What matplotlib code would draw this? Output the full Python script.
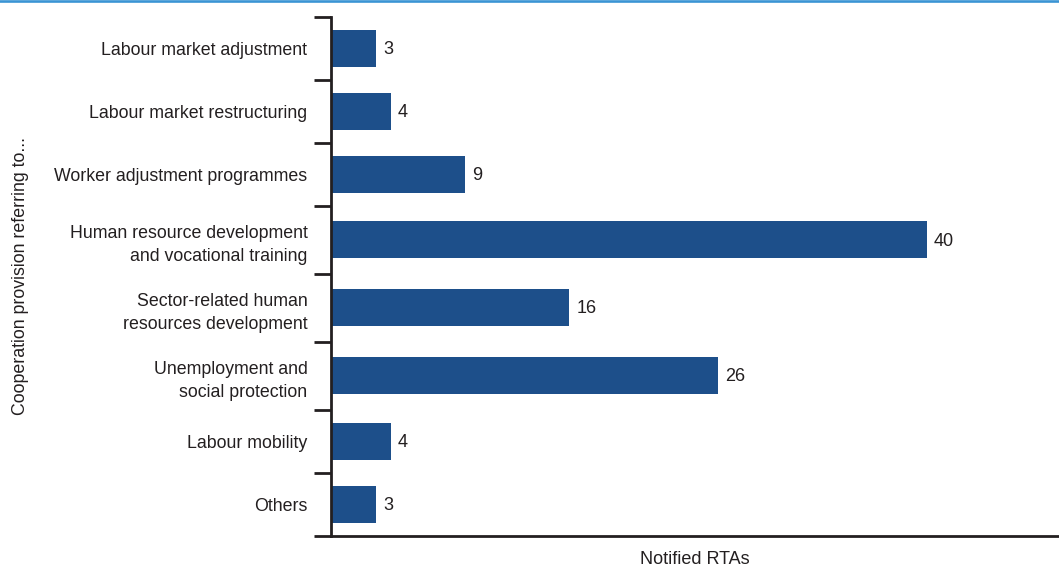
import matplotlib
matplotlib.use("Agg")
import matplotlib.pyplot as plt
import numpy as np

# Cooperation provisions in notified RTAs
categories = [
    "Labour market adjustment",
    "Labour market restructuring",
    "Worker adjustment programmes",
    "Human resource development\nand vocational training",
    "Sector-related human\nresources development",
    "Unemployment and\nsocial protection",
    "Labour mobility",
    "Others",
]
counts = [3, 4, 9, 40, 16, 26, 4, 3]

BAR_COLOR = "#1d4f8a"
INK = "#231f20"
TOP_RULE = "#3a94d4"

plt.rcParams["font.family"] = ["Liberation Sans", "DejaVu Sans"]

fig = plt.figure(figsize=(10.59, 5.69), dpi=100)
ax = fig.add_axes([331 / 1059, 1 - 535.5 / 569, 1 - 331 / 1059, (535.5 - 17) / 569])

# Rows carrying two-line labels get a little extra height
row_h = np.array([68 / 63 if "\n" in c else 1.0 for c in categories])
edges = np.concatenate([[0], np.cumsum(row_h)])
centers = (edges[:-1] + edges[1:]) / 2

ax.barh(centers, counts, height=37 / 63, color=BAR_COLOR, align="center")
for y, v in zip(centers, counts):
    ax.text(v + 0.5, y + 0.02, f"{v}", va="center", ha="left", fontsize=13, color=INK)

ax.set_ylim(edges[-1], 0)
ax.set_xlim(0, 48.9)

# Category labels sit between the boundary ticks
ax.set_yticks(edges)
ax.set_yticklabels([])
ax.set_yticks(centers, minor=True)
ax.set_yticklabels(categories, minor=True, fontsize=12.8, color=INK,
                   ha="right", multialignment="right", linespacing=1.5)
ax.tick_params(axis="y", which="major", length=12.2, width=2.0, color=INK)
ax.tick_params(axis="y", which="minor", length=0, pad=17)
ax.set_xticks([])

for s in ["top", "right"]:
    ax.spines[s].set_visible(False)
for s in ["left", "bottom"]:
    ax.spines[s].set_linewidth(2.0)
    ax.spines[s].set_color(INK)

ax.set_xlabel("Notified RTAs", fontsize=13, color=INK, labelpad=11)
fig.text(21 / 1059, 1 - 276 / 569, "Cooperation provision referring to...",
         rotation=90, ha="center", va="center", fontsize=12.8, color=INK)

# Thin coloured rule along the top edge
fig.add_artist(plt.Line2D([0, 1], [1 - 1.3 / 569, 1 - 1.3 / 569],
                          transform=fig.transFigure, color=TOP_RULE, linewidth=1.9))

fig.savefig("out.png", dpi=100, facecolor="white")
